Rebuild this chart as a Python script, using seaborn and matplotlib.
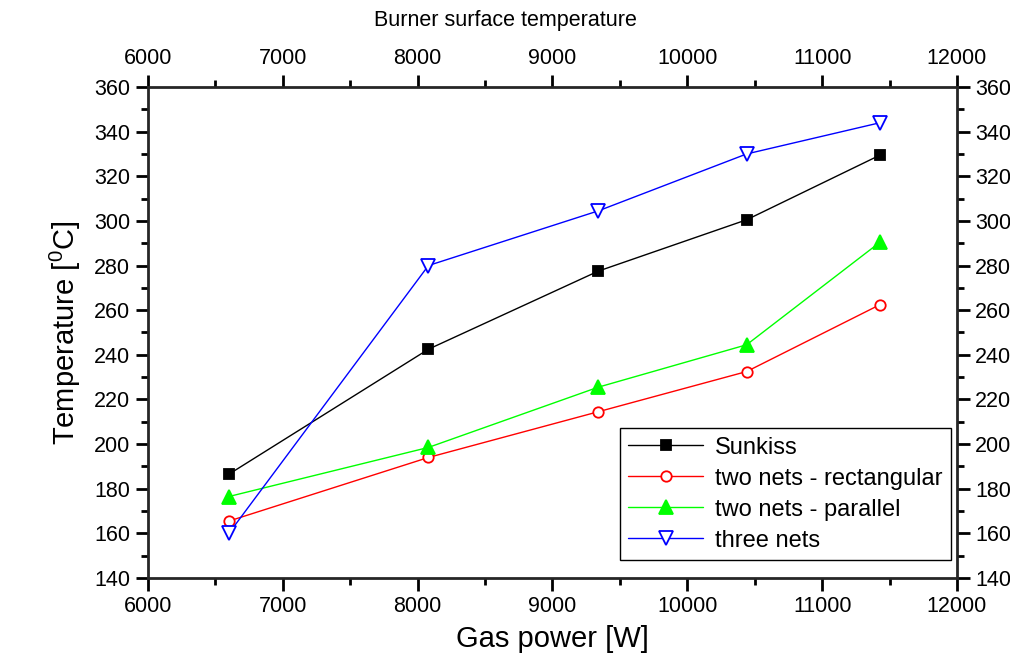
import matplotlib
matplotlib.use("Agg")
import matplotlib.pyplot as plt
import seaborn as sns
import pandas as pd
from matplotlib.ticker import MultipleLocator

# data
gas_power = [6600, 8080, 9340, 10440, 11430]
sunkiss = [186.5, 242.5, 277.5, 300.5, 329.5]
two_nets_rect = [165.5, 194, 214.5, 232.5, 262.5]
two_nets_par = [176.5, 198.5, 225.5, 244.5, 290.5]
three_nets = [160, 280, 304.5, 330, 344]

series = {
    "Sunkiss": sunkiss,
    "two nets - rectangular": two_nets_rect,
    "two nets - parallel": two_nets_par,
    "three nets": three_nets,
}

df = pd.concat(
    [pd.DataFrame({"power": gas_power, "temp": v, "series": k}) for k, v in series.items()]
)

sns.set_style("ticks")
plt.rcParams["font.family"] = ["Liberation Sans", "DejaVu Sans"]
plt.rcParams["text.color"] = "black"
plt.rcParams["axes.labelcolor"] = "black"
plt.rcParams["xtick.color"] = "black"
plt.rcParams["ytick.color"] = "black"

colors = {"Sunkiss": "black", "two nets - rectangular": "red",
          "two nets - parallel": "#00ff00", "three nets": "blue"}
markers = {"Sunkiss": "s", "two nets - rectangular": "o",
           "two nets - parallel": "^", "three nets": "v"}
fills = {"Sunkiss": "black", "two nets - rectangular": "white",
         "two nets - parallel": "#00ff00", "three nets": "white"}
sizes = {"Sunkiss": 7, "two nets - rectangular": 7.5, "two nets - parallel": 9.5, "three nets": 9.5}

fig = plt.figure(figsize=(10.1, 6.62), dpi=100)
ax = fig.add_axes([0.1465, 0.1269, 0.801, 0.7417])

for name in series:
    sub = df[df["series"] == name]
    sns.lineplot(data=sub, x="power", y="temp", ax=ax, color=colors[name], lw=1,
                 marker=markers[name], markersize=sizes[name],
                 markerfacecolor=fills[name], markeredgecolor=colors[name],
                 markeredgewidth=1.3, label=name, zorder=3)

ax.set_xlim(6000, 12000)
ax.set_ylim(140, 360)
ax.xaxis.set_major_locator(MultipleLocator(1000))
ax.xaxis.set_minor_locator(MultipleLocator(500))
ax.yaxis.set_major_locator(MultipleLocator(20))
ax.yaxis.set_minor_locator(MultipleLocator(10))

ax.tick_params(which="both", direction="out", width=2, labelsize=15.5,
               top=True, right=True, labeltop=True, labelright=True, pad=4)
ax.tick_params(which="major", length=9)
ax.tick_params(which="minor", length=5)
for s in ax.spines.values():
    s.set_linewidth(2)

ax.set_xlabel("Gas power [W]", fontsize=21, labelpad=6)
ax.set_ylabel("Temperature [$\\mathregular{^0}$C]", fontsize=21, labelpad=8)
fig.text(0.5, 0.969, "Burner surface temperature", ha="center", va="center", fontsize=15.5)

leg = ax.legend(loc="lower right", bbox_to_anchor=(0.9926, 0.037), fontsize=17,
                frameon=True, fancybox=False, shadow=False, borderpad=0.35,
                handlelength=3.2, labelspacing=0.38, borderaxespad=0,
                handletextpad=0.5)
leg.get_frame().set_edgecolor("black")
leg.get_frame().set_linewidth(1)
leg.get_frame().set_alpha(1)

fig.savefig("out.png", dpi=100)
